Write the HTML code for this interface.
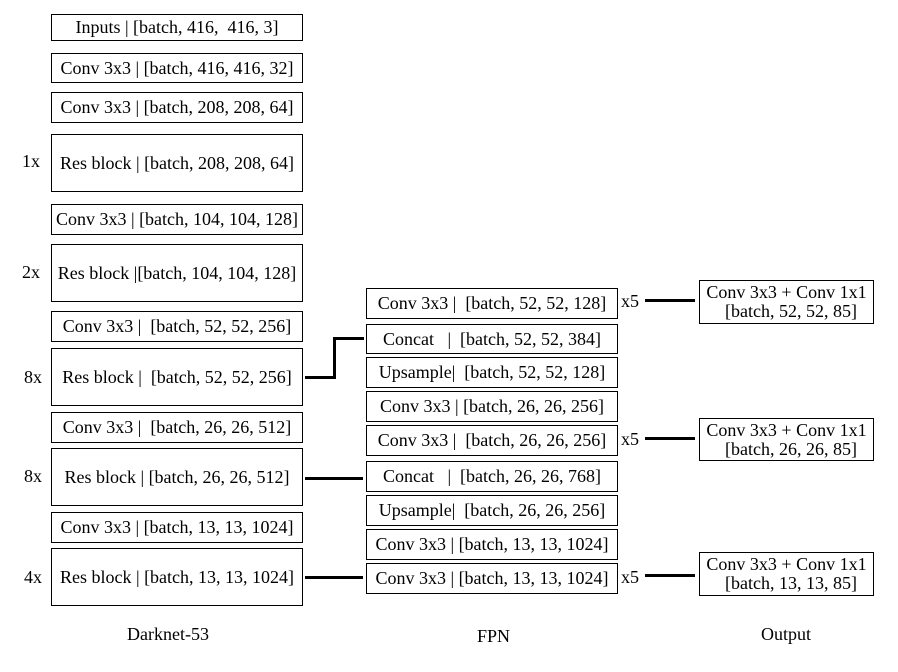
<!DOCTYPE html>
<html><head><style>
body{margin:0;width:898px;height:672px;background:#fff;position:relative;font-family:"Liberation Serif",serif;font-size:18px;color:#000;overflow:hidden}
.b{position:absolute;box-sizing:border-box;border:1.3px solid #000;display:flex;align-items:center;justify-content:center;white-space:pre;line-height:19px;text-align:center}
.t{position:absolute;white-space:pre}
.l{position:absolute;background:#000}
</style></head><body>
<div class="b" style="left:51px;top:14px;width:252px;height:27px">Inputs | [batch, 416,  416, 3]</div>
<div class="b" style="left:51px;top:53px;width:252px;height:30px">Conv 3x3 | [batch, 416, 416, 32]</div>
<div class="b" style="left:51px;top:92px;width:252px;height:31px">Conv 3x3 | [batch, 208, 208, 64]</div>
<div class="b" style="left:51px;top:134px;width:252px;height:58px">Res block | [batch, 208, 208, 64]</div>
<div class="b" style="left:51px;top:204px;width:252px;height:31px">Conv 3x3 | [batch, 104, 104, 128]</div>
<div class="b" style="left:51px;top:244px;width:252px;height:58px">Res block |[batch, 104, 104, 128]</div>
<div class="b" style="left:51px;top:311px;width:252px;height:31px">Conv 3x3 |  [batch, 52, 52, 256]</div>
<div class="b" style="left:51px;top:348px;width:252px;height:58px">Res block |  [batch, 52, 52, 256]</div>
<div class="b" style="left:51px;top:412px;width:252px;height:31px">Conv 3x3 |  [batch, 26, 26, 512]</div>
<div class="b" style="left:51px;top:448px;width:252px;height:58px">Res block | [batch, 26, 26, 512]</div>
<div class="b" style="left:51px;top:512px;width:252px;height:31px">Conv 3x3 | [batch, 13, 13, 1024]</div>
<div class="b" style="left:51px;top:548px;width:252px;height:58px">Res block | [batch, 13, 13, 1024]</div>
<div class="t" style="left:22px;top:151px">1x</div>
<div class="t" style="left:22px;top:262px">2x</div>
<div class="t" style="left:24px;top:367px">8x</div>
<div class="t" style="left:24px;top:466px">8x</div>
<div class="t" style="left:24px;top:567px">4x</div>

<div class="b" style="left:366px;top:288px;width:252px;height:31px">Conv 3x3 |  [batch, 52, 52, 128]</div>
<div class="b" style="left:366px;top:324px;width:252px;height:30px">Concat   |  [batch, 52, 52, 384]</div>
<div class="b" style="left:366px;top:357px;width:252px;height:31px">Upsample|  [batch, 52, 52, 128]</div>
<div class="b" style="left:366px;top:391px;width:252px;height:31px">Conv 3x3 | [batch, 26, 26, 256]</div>
<div class="b" style="left:366px;top:425px;width:252px;height:31px">Conv 3x3 |  [batch, 26, 26, 256]</div>
<div class="b" style="left:366px;top:461px;width:252px;height:31px">Concat   |  [batch, 26, 26, 768]</div>
<div class="b" style="left:366px;top:495px;width:252px;height:31px">Upsample|  [batch, 26, 26, 256]</div>
<div class="b" style="left:366px;top:529px;width:252px;height:31px">Conv 3x3 | [batch, 13, 13, 1024]</div>
<div class="b" style="left:366px;top:563px;width:252px;height:31px">Conv 3x3 | [batch, 13, 13, 1024]</div>

<div class="t" style="left:621px;top:291px">x5</div>
<div class="t" style="left:621px;top:429px">x5</div>
<div class="t" style="left:621px;top:567px">x5</div>
<div class="l" style="left:645px;top:299px;width:50px;height:3px"></div>
<div class="l" style="left:645px;top:437px;width:50px;height:3px"></div>
<div class="l" style="left:645px;top:574px;width:50px;height:3px"></div>

<div class="b" style="left:699px;top:280px;width:175px;height:44px">Conv 3x3 + Conv 1x1
  [batch, 52, 52, 85]</div>
<div class="b" style="left:699px;top:418px;width:175px;height:43px">Conv 3x3 + Conv 1x1
  [batch, 26, 26, 85]</div>
<div class="b" style="left:699px;top:552px;width:175px;height:44px">Conv 3x3 + Conv 1x1
  [batch, 13, 13, 85]</div>

<div class="l" style="left:305px;top:376px;width:31px;height:3px"></div>
<div class="l" style="left:333px;top:337px;width:3px;height:42px"></div>
<div class="l" style="left:333px;top:337px;width:31px;height:3px"></div>
<div class="l" style="left:305px;top:477px;width:58px;height:3px"></div>
<div class="l" style="left:305px;top:576px;width:58px;height:3px"></div>

<div class="t" style="left:127px;top:624px">Darknet-53</div>
<div class="t" style="left:477px;top:626px">FPN</div>
<div class="t" style="left:761px;top:624px">Output</div>
</body></html>
